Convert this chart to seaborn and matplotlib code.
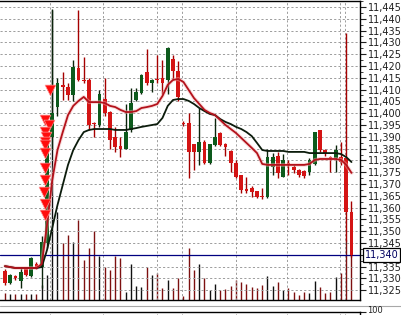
import matplotlib
matplotlib.use("Agg")
import matplotlib.pyplot as plt
import matplotlib.transforms as mtransforms
from matplotlib.lines import Line2D
from matplotlib.ticker import FixedLocator, FuncFormatter
import numpy as np
import pandas as pd
import seaborn as sns

# ---------------- data ----------------
opens = [11333, 11328, 11331, 11329, 11334, 11331, 11336, 11335, 11345, 11390,
         11402.6, 11412, 11411, 11407.7, 11419, 11414, 11414, 11396, 11395, 11406,
         11400.5, 11390, 11386, 11385, 11393, 11405.6, 11408.5, 11417.5, 11413, 11414.5,
         11415, 11414, 11423, 11418, 11396, 11396, 11387, 11383.6, 11388, 11379,
         11386.5, 11391.6, 11387, 11384, 11379, 11374, 11368, 11368.5, 11367, 11365,
         11364.5, 11377, 11382, 11373, 11379, 11377, 11376, 11375.5, 11375, 11378.5,
         11392.8, 11384.4, 11381.4, 11381, 11381.5, 11381, 11358]
highs = [11334, 11332, 11331.5, 11335, 11335, 11339, 11337, 11348, 11392, 11444,
         11415, 11417.5, 11412.6, 11422.5, 11443.7, 11424, 11415, 11396.3, 11410, 11415,
         11401, 11394, 11390, 11404, 11410.7, 11410.7, 11416.5, 11427, 11414.5, 11424.7,
         11422.5, 11428, 11424.7, 11422, 11396.5, 11400, 11387, 11402, 11388.5, 11387,
         11398, 11392, 11387.4, 11384.5, 11380, 11374, 11373, 11369, 11367, 11368.5,
         11385, 11383, 11383.6, 11382.6, 11380, 11378, 11376.5, 11376, 11381, 11392,
         11392.8, 11385, 11382, 11386.5, 11388, 11434, 11363]
lows = [11327, 11327.5, 11329.5, 11326, 11331, 11330.5, 11334, 11326, 11343, 11385,
        11399, 11405.6, 11405.6, 11405, 11413.5, 11412.7, 11393, 11390, 11394, 11399,
        11385, 11383.5, 11381.4, 11385, 11392, 11405, 11408, 11412, 11409, 11413,
        11408, 11408, 11414, 11405, 11394.5, 11372.5, 11376, 11378, 11378.5, 11378.5,
        11386, 11386, 11382, 11375, 11372.5, 11366, 11366, 11364.5, 11364, 11363.5,
        11364, 11374, 11372.5, 11372.8, 11374, 11374.6, 11373, 11372.5, 11374, 11378,
        11383.6, 11382, 11375, 11375, 11378, 11346, 11339]
closes = [11328, 11331.5, 11330, 11332.7, 11331.5, 11338.5, 11334.5, 11345.5, 11390, 11400,
          11413, 11411, 11407.7, 11419.6, 11414, 11413.5, 11395, 11395.5, 11408, 11400,
          11388.6, 11385.5, 11385, 11392, 11404.3, 11409, 11416, 11413, 11414, 11414,
          11413, 11427.6, 11418, 11407, 11395.5, 11383.6, 11383.6, 11388, 11379, 11387,
          11390, 11386.5, 11385.7, 11379, 11373, 11367.5, 11367, 11366.5, 11364.5, 11364.5,
          11381.4, 11381.4, 11374.6, 11380, 11378, 11376, 11374, 11373.5, 11380, 11392,
          11384.4, 11383, 11381, 11384.4, 11379.4, 11358, 11340]
volumes = [7, 6, 6, 6, 6, 6, 6, 15, 25, 290,
           88, 57, 65, 58, 80, 40, 52, 69, 44, 33,
           30, 44, 42, 8, 36, 14, 13, 33, 25, 27,
           12, 20, 12, 22, 4, 52, 30, 36, 22, 10,
           16, 10, 11, 14, 20, 18, 16, 13, 12, 15,
           24, 14, 18, 10, 12, 8, 5, 8, 7, 19,
           13, 7, 8, 23, 27, 60, 60]
ma_fast = [11335.2, 11334.8, 11334.4, 11334.4, 11334.4, 11334.4, 11334.4, 11336.1, 11352.6, 11371.7,
           11384.4, 11392.0, 11399.2, 11403.1, 11405.2, 11406.9, 11404.7, 11404.7, 11404.7, 11404.3,
           11403.1, 11402.6, 11401.4, 11400.5, 11400.5, 11400.9, 11402.2, 11402.6, 11403.1, 11403.9,
           11407.3, 11412.0, 11414.1, 11414.5, 11413.2, 11409.8, 11406.4, 11403.9, 11401.4, 11400.1,
           11399.2, 11397.1, 11395.0, 11393.3, 11391.6, 11389.5, 11387.4, 11385.3, 11383.1, 11378.5,
           11378.1, 11378.1, 11378.1, 11378.1, 11378.1, 11378.1, 11378.1, 11378.1, 11378.5, 11380.2,
           11380.6, 11380.6, 11380.6, 11380.6, 11380.2, 11378.1, 11374.7]
ma_slow = [11335.2, 11334.8, 11334.4, 11334.4, 11334.4, 11334.4, 11334.4, 11334.8, 11342.0, 11351.4,
           11361.1, 11369.6, 11378.1, 11384.4, 11388.6, 11392.0, 11392.9, 11393.3, 11393.3, 11393.3,
           11393.3, 11392.9, 11392.9, 11392.9, 11393.3, 11393.7, 11394.2, 11394.6, 11395.0, 11395.4,
           11398.0, 11403.1, 11405.6, 11406.0, 11406.0, 11405.2, 11403.9, 11402.2, 11400.9, 11399.7,
           11399.2, 11397.5, 11396.3, 11395.4, 11394.2, 11393.3, 11392.0, 11390.3, 11387.4, 11384.4,
           11384.0, 11384.0, 11384.0, 11384.0, 11383.6, 11383.6, 11383.6, 11383.6, 11383.1, 11383.1,
           11383.1, 11383.1, 11383.1, 11383.1, 11382.7, 11381.4, 11379.3]
signal_idx = [8.6, 7.6, 8.4, 7.6, 7.8, 7.6, 7.6, 7.7, 7.6, 7.6, 7.5, 7.6, 7.7]
signal_price = [11409.8, 11397.1, 11395.0, 11392.0, 11389.9, 11387.8, 11386.5,
                11383.1, 11376.8, 11371.7, 11366.6, 11361.5, 11356.9]
price_ticks = list(range(11325, 11446, 5))
last_price = 11340
lower_label = "100"
grid_x = [8.6, 18.6, 28.9, 33.7, 44.0, 53.7, 63.8, 64.8]

# ---------------- styling ----------------
sns.set_style("white")
plt.rcParams['font.family'] = ['DejaVu Sans']

W, H = 402, 315
def px_rect(x0, y0, x1, y1):
    return [x0 / W, 1 - y1 / H, (x1 - x0) / W, (y1 - y0) / H]

df = pd.DataFrame({"idx": np.arange(len(opens)), "open": opens, "high": highs,
                   "low": lows, "close": closes, "vol": volumes,
                   "ma_fast": ma_fast, "ma_slow": ma_slow})
bull = df["close"] >= df["open"]

fig = plt.figure(figsize=(W / 100, H / 100), dpi=100)
fig.patch.set_facecolor("white")
ax = fig.add_axes(px_rect(0, 1, 360, 300))
axv = ax.twinx()
ax.set_zorder(axv.get_zorder() + 1)
ax.patch.set_visible(False)
axv.set_facecolor("white")

step = 5.25
xlim = (-5 / step, 355 / step)
ax.set_xlim(*xlim)
ax.set_ylim(11320.85, 11447.54)
axv.set_ylim(0, 299)

# grid
dash = (0, (2.2, 2.2))
for p in price_ticks:
    ax.axhline(p, color="#9c9c9c", lw=0.7, ls=dash, zorder=0.5)
for g in grid_x:
    ax.axvline(g, color="#9c9c9c", lw=0.7, ls=dash, zorder=0.5)

# volumes
vol_colors = np.where(bull, "#101010", "#7d1010")
axv.vlines(df["idx"], 0, df["vol"], colors=vol_colors, lw=1.0)
axv.set_yticks([])
for s in axv.spines.values():
    s.set_visible(False)

# current price line
ax.axhline(last_price, color="#000080", lw=0.9, zorder=1)

# candles
wick_colors = np.where(bull, "#0b240b", "#a50000")
body_colors = np.where(bull, "#0d5a1c", "#d41414")
ax.vlines(df["idx"], df["low"], df["high"], colors=wick_colors, lw=1.0, zorder=2)
body_h = np.maximum((df["close"] - df["open"]).abs(), 0.45)
body_b = np.minimum(df["open"], df["close"])
ax.bar(df["idx"], body_h, bottom=body_b, width=0.76, color=body_colors,
       linewidth=0, zorder=3)

# moving averages (with soft glow)
sns.lineplot(data=df, x="idx", y="ma_fast", ax=ax, color="#f4b4b4", lw=2.8,
             alpha=0.45, zorder=3.5, legend=False)
sns.lineplot(data=df, x="idx", y="ma_slow", ax=ax, color="#0c1c0c", lw=1.3,
             zorder=4, legend=False)
sns.lineplot(data=df, x="idx", y="ma_fast", ax=ax, color="#b3121b", lw=1.3,
             zorder=4.2, legend=False)

# signal arrows
sns.scatterplot(x=signal_idx, y=signal_price, ax=ax, marker="v", s=60,
                color="#ff0c0c", edgecolor="#ff9090", linewidth=0.5, zorder=5,
                legend=False)

# axes cosmetics
ax.set_xlabel("")
ax.set_ylabel("")
ax.set_xticks([])
ax.yaxis.tick_right()
ax.yaxis.set_major_locator(FixedLocator(price_ticks))
ax.yaxis.set_minor_locator(FixedLocator([p + 2.5 for p in price_ticks]))
ax.yaxis.set_major_formatter(
    FuncFormatter(lambda v, _: "" if abs(v - last_price) < 0.1 else f"{v:,.0f}"))
ax.tick_params(axis="y", which="major", right=True, left=False, length=4,
               width=0.8, pad=2, labelsize=7, labelcolor="#202020", color="#202020")
ax.tick_params(axis="y", which="minor", right=True, left=False, length=2,
               width=0.6, color="#202020")
for name, s in ax.spines.items():
    s.set_color("black")
    s.set_linewidth(1.0)
ax.spines["left"].set_visible(False)

# last price box
trans = mtransforms.blended_transform_factory(ax.transAxes, ax.transData)
ax.text(1.0 + 5 / 360, last_price, f"{last_price:,}", transform=trans,
        ha="left", va="center", fontsize=7, color="#000060", zorder=10,
        clip_on=False,
        bbox=dict(boxstyle="square,pad=0.18", fc="white", ec="black", lw=0.9))

# separator line
fig.add_artist(Line2D([0, 1], [1 - 306 / H] * 2, color="#a8a8a8", lw=0.8))

# lower indicator panel (mostly cut off)
ax2 = fig.add_axes(px_rect(0, 311.5, 360, 380))
ax2.set_xlim(*xlim)
ax2.set_ylim(0, 100)
for g in grid_x:
    ax2.axvline(g, color="#9c9c9c", lw=0.7, ls=dash)
ax2.set_xticks([])
ax2.yaxis.tick_right()
ax2.set_yticks([100])
ax2.set_yticklabels([""])
ax2.tick_params(axis="y", right=True, left=False, length=4, width=0.8,
                color="#202020")
for s in ax2.spines.values():
    s.set_color("black")
    s.set_linewidth(1.0)
ax2.spines["left"].set_visible(False)
fig.text(367 / W, 1 - 310.6 / H, lower_label, ha="left", va="center",
         fontsize=6, color="#202020")

fig.savefig("out.png", dpi=100, facecolor="white")
